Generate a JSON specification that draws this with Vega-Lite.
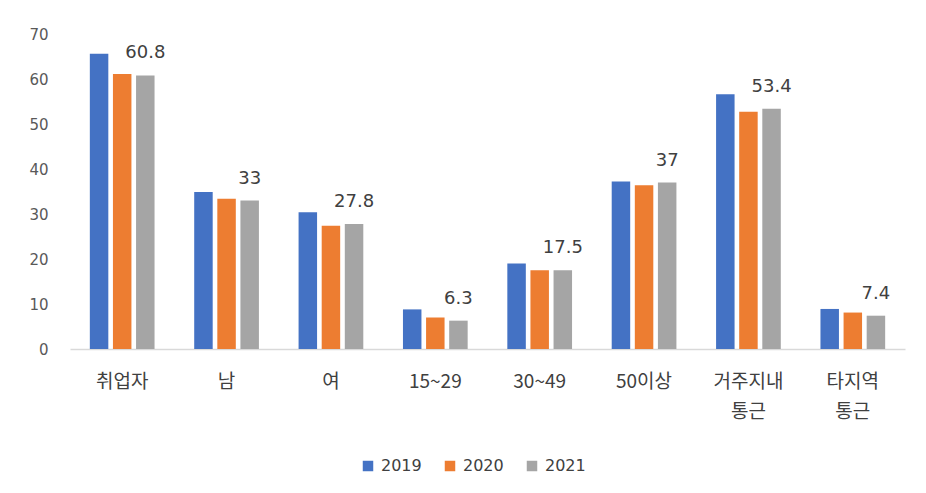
{
  "$schema": "https://vega.github.io/schema/vega-lite/v6.json",
  "width": 835,
  "height": 315,
  "autosize": {"type": "none"},
  "padding": {"left": 70, "top": 34, "right": 21, "bottom": 144},
  "background": "white",
  "config": {
    "view": {"stroke": null},
    "font": "Noto Sans CJK KR"
  },
  "data": {
    "values": [
      {"cat": "취업자", "year": "2019", "v": 65.6},
      {"cat": "취업자", "year": "2020", "v": 61.1},
      {"cat": "취업자", "year": "2021", "v": 60.8, "label": "60.8"},
      {"cat": "남", "year": "2019", "v": 34.9},
      {"cat": "남", "year": "2020", "v": 33.4},
      {"cat": "남", "year": "2021", "v": 33.0, "label": "33"},
      {"cat": "여", "year": "2019", "v": 30.4},
      {"cat": "여", "year": "2020", "v": 27.4},
      {"cat": "여", "year": "2021", "v": 27.8, "label": "27.8"},
      {"cat": "15~29", "year": "2019", "v": 8.8},
      {"cat": "15~29", "year": "2020", "v": 7.0},
      {"cat": "15~29", "year": "2021", "v": 6.3, "label": "6.3"},
      {"cat": "30~49", "year": "2019", "v": 19.0},
      {"cat": "30~49", "year": "2020", "v": 17.5},
      {"cat": "30~49", "year": "2021", "v": 17.5, "label": "17.5"},
      {"cat": "50이상", "year": "2019", "v": 37.2},
      {"cat": "50이상", "year": "2020", "v": 36.4},
      {"cat": "50이상", "year": "2021", "v": 37.0, "label": "37"},
      {"cat": "거주지내\n통근", "year": "2019", "v": 56.6},
      {"cat": "거주지내\n통근", "year": "2020", "v": 52.7},
      {"cat": "거주지내\n통근", "year": "2021", "v": 53.4, "label": "53.4"},
      {"cat": "타지역\n통근", "year": "2019", "v": 8.9},
      {"cat": "타지역\n통근", "year": "2020", "v": 8.1},
      {"cat": "타지역\n통근", "year": "2021", "v": 7.4, "label": "7.4"}
    ]
  },
  "encoding": {
    "x": {
      "field": "cat",
      "type": "nominal",
      "sort": null,
      "title": null,
      "scale": {"paddingInner": 0.38, "paddingOuter": 0.19},
      "axis": {
        "labelAngle": 0,
        "labelExpr": "split(datum.label, '\\n')",
        "labelFontSize": 19,
        "labelColor": "#404040",
        "labelPadding": 23,
        "labelLineHeight": 30,
        "ticks": false,
        "domainColor": "#d9d9d9",
        "domainWidth": 1.5
      }
    },
    "xOffset": {"field": "year", "type": "nominal", "scale": {"paddingInner": 0.2}},
    "y": {
      "field": "v",
      "type": "quantitative",
      "title": null,
      "scale": {"domain": [0, 70]},
      "axis": {
        "values": [0, 10, 20, 30, 40, 50, 60, 70],
        "grid": false,
        "domain": false,
        "ticks": false,
        "labelFont": "DejaVu Sans",
        "labelFontSize": 15,
        "labelColor": "#595959",
        "labelPadding": 22
      }
    }
  },
  "layer": [
    {
      "mark": {"type": "bar"},
      "encoding": {
        "color": {
          "field": "year",
          "type": "nominal",
          "scale": {"domain": ["2019", "2020", "2021"], "range": ["#4472C4", "#ED7D31", "#A5A5A5"]},
          "legend": {
            "title": null,
            "orient": "none",
            "direction": "horizontal",
            "legendX": 290,
            "legendY": 424,
            "symbolType": "square",
            "symbolSize": 110,
            "symbolStrokeWidth": 0,
            "labelFont": "DejaVu Sans",
            "labelFontSize": 16,
            "labelColor": "#404040",
            "columnPadding": 20,
            "labelOffset": 5
          }
        }
      }
    },
    {
      "transform": [{"filter": "datum.label != null"}],
      "mark": {"type": "text", "baseline": "bottom", "dy": -13, "fontSize": 18, "font": "DejaVu Sans", "color": "#404040"},
      "encoding": {"text": {"field": "label"}}
    }
  ]
}
